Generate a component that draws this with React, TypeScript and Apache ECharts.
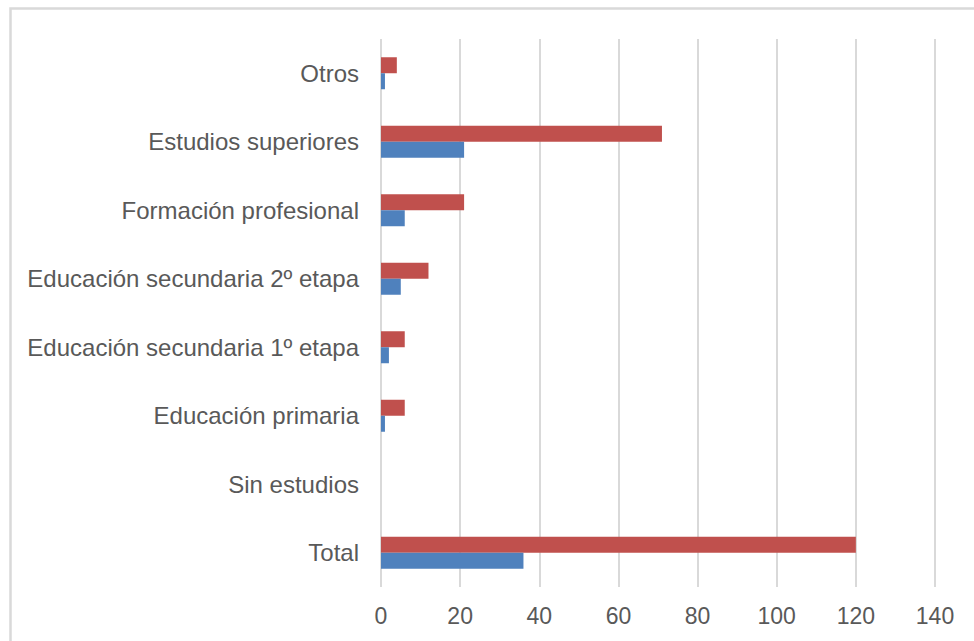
import React, { useEffect, useRef } from "react";
import * as echarts from "echarts";

const categories = [
  "Total",
  "Sin estudios",
  "Educación primaria",
  "Educación secundaria 1º etapa",
  "Educación secundaria 2º etapa",
  "Formación profesional",
  "Estudios superiores",
  "Otros",
];
const blueValues = [36, 0, 1, 2, 5, 6, 21, 1];
const redValues = [120, 0, 6, 6, 12, 21, 71, 4];
const xTicks = { min: 0, max: 140, interval: 20 };

export default function App() {
  const ref = useRef<HTMLDivElement>(null);
  useEffect(() => {
    if (!ref.current) return;
    const chart = echarts.init(ref.current, null, { renderer: "svg" });
    chart.setOption({
      animation: false,
      backgroundColor: "#ffffff",
      graphic: [
        {
          type: "rect",
          shape: { x: 10.5, y: 8.5, width: 1000, height: 700 },
          style: { fill: "none", stroke: "#d9d9d9", lineWidth: 2.5 },
          silent: true,
        },
      ],
      grid: { left: 381, right: 39, top: 39, bottom: 54, containLabel: false },
      xAxis: {
        type: "value",
        min: xTicks.min,
        max: xTicks.max,
        interval: xTicks.interval,
        axisLine: { show: false },
        axisTick: { show: false },
        splitLine: { show: true, lineStyle: { color: "#d9d9d9", width: 2 } },
        axisLabel: {
          color: "#595959",
          fontSize: 23,
          fontFamily: "Liberation Sans, Arial, sans-serif",
          margin: 17,
        },
      },
      yAxis: {
        type: "category",
        data: categories,
        axisLine: { show: false },
        axisTick: { show: false },
        splitLine: { show: false },
        axisLabel: {
          color: "#595959",
          fontSize: 24,
          fontFamily: "Liberation Sans, Arial, sans-serif",
          margin: 22,
        },
      },
      series: [
        {
          type: "bar",
          data: redValues,
          barWidth: 16,
          barGap: "0%",
          itemStyle: { color: "#c0504d" },
        },
        {
          type: "bar",
          data: blueValues,
          barWidth: 16,
          barGap: "0%",
          itemStyle: { color: "#4f81bd" },
        },
      ],
    });
    return () => chart.dispose();
  }, []);
  return (
    <div
      ref={ref}
      style={{ position: "fixed", left: 0, top: 0, width: 974, height: 641 }}
    />
  );
}
